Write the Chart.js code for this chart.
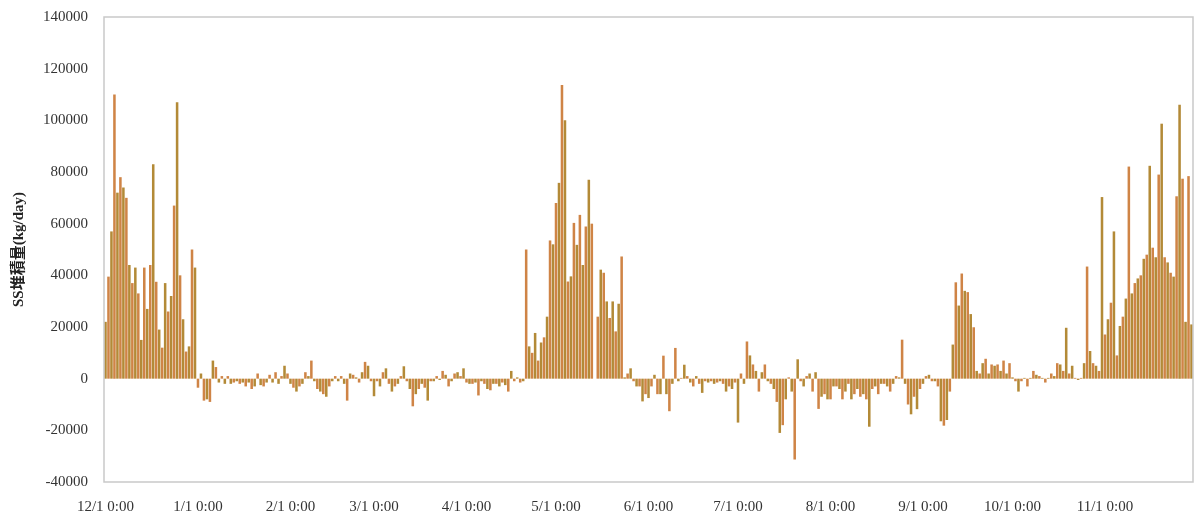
<!DOCTYPE html>
<html>
<head>
<meta charset="utf-8">
<script src="https://cdn.jsdelivr.net/npm/chart.js@4"></script>
<style>
  html, body { margin: 0; padding: 0; background: #fff; }
  #wrap { width: 1195px; height: 518px; }
</style>
</head>
<body>
<div id="wrap"><canvas id="ssChart" width="1195" height="518"></canvas></div>
<script>
// 日別 SS 堆積量 (kg/day)、12月～11月
const months = [12, 1, 2, 3, 4, 5, 6, 7, 8, 9, 10, 11];
const monthDays = [31, 31, 28, 31, 30, 31, 30, 31, 31, 30, 31, 30];

const dec = [22000, 39500, 57000, 110000, 72000, 78000, 74000, 70000, 44000, 37000, 43000, 33000, 15000, 43000, 27000, 44000,
  83000, 37500, 19000, 12000, 37000, 26000, 32000, 67000, 107000, 40000, 23000, 10500, 12500, 50000, 43000];
const jan = [-3500, 2000, -8500, -8000, -9000, 7000, 4500, -1500, 1000, -2000, 1000, -2000, -1500, -1000, -2000, -1500,
  -3000, -1500, -4000, -3000, 2000, -2500, -3000, -1500, 1500, -1500, 2500, -2000, 1000, 5000, 2000];
const feb = [-2000, -3500, -5000, -3000, -2000, 2500, 1000, 7000, -1000, -4000, -5000, -6000, -7000, -3000, -1000, 1000,
  -1000, 1000, -2000, -8500, 2000, 1500, 500, -1500, 2500, 6500, 5000, -1000];
const mar = [-6800, -1000, -3000, 2500, 4000, -2000, -5000, -3000, -2000, 1000, 4800, -1000, -4000, -10700, -6000, -4000,
  -2000, -3500, -8500, -1000, -1000, 1000, -500, 3000, 1500, -3000, -1000, 2000, 2500, 1000, 4000];
const apr = [-1500, -2000, -2000, -1500, -6500, -1000, -2000, -4000, -4500, -2000, -2000, -3000, -1500, -2500, -5000, 3000,
  -1000, 500, -1500, -1000, 50000, 12500, 10000, 17700, 7000, 14000, 16000, 24000, 53500, 52000];
const may = [68000, 75800, 113700, 100000, 37600, 39600, 60300, 51800, 63400, 44000, 58900, 77000, 60000, 0, 24000, 42200,
  41000, 29900, 23500, 29900, 18300, 29000, 47300, 500, 2000, 4000, -1000, -3000, -3000, -8800, -6000];
const jun = [-7500, -3000, 1500, -6000, -6000, 8900, -6000, -12600, -2000, 11900, -1000, 300, 5400, 1000, -1500, -3000,
  1000, -2000, -5500, -1000, -1500, -1000, -2000, -1500, -1000, -2000, -5000, -3000, -4000, -1500];
const jul = [-17000, 2000, -2000, 14400, 9000, 5500, 3000, -5000, 2500, 5500, -1000, -2000, -4000, -9000, -21000, -18000,
  -8000, 500, -5000, -31300, 7500, -1000, -3000, 1000, 2000, -5000, 2500, -11700, -7000, -6000, -8000];
const aug = [-8000, -3000, -3000, -4000, -8000, -5000, -2000, -8000, -6000, -4000, -7000, -6000, -8000, -18600, -4000, -3000,
  -6000, -2000, -2000, -3000, -5000, -2000, 1000, 500, 15100, -2000, -10000, -13800, -7000, -11800, -4000];
const sep = [-2000, 1000, 1500, -1000, -1000, -3000, -16500, -18200, -16000, -5000, 13200, 37300, 28300, 40700, 34000, 33500,
  25000, 19900, 3000, 2000, 6000, 7700, 2000, 5500, 5000, 5500, 3000, 7000, 2000, 6000];
const oct = [500, -1000, -5000, -1000, 300, -3000, 300, 3000, 1500, 1000, 300, -1500, 300, 2000, 1000, 6000,
  5500, 3000, 19700, 2000, 5000, 300, -500, 300, 6000, 43400, 10700, 6000, 5000, 3000, 70300];
const nov = [17100, 23000, 29400, 57000, 9000, 20400, 24000, 31000, 82100, 33000, 37000, 38800, 40000, 46400, 48000, 82400,
  50700, 47000, 79000, 98700, 47000, 45000, 41000, 39500, 70600, 106000, 77400, 22000, 78400, 21000];

const yTicks = [-40000, -20000, 0, 20000, 40000, 60000, 80000, 100000, 120000, 140000];

const ssLoad = [].concat(dec, jan, feb, mar, apr, may, jun, jul, aug, sep, oct, nov);

// 日付ラベル (m/d 0:00)
const labels = [];
months.forEach(function(m, k) {
  for (let d = 1; d <= monthDays[k]; d++) labels.push(m + '/' + d + ' 0:00');
});

// 棒の色を交互に
const barColors = ssLoad.map(function(v, i) { return i % 2 ? '#cf8446' : '#b38a37'; });

// プロット領域の枠線
const frame = {
  id: 'frame',
  afterDraw(chart) {
    const a = chart.chartArea, ctx = chart.ctx;
    ctx.save();
    ctx.strokeStyle = '#c9c9c9';
    ctx.lineWidth = 1.5;
    ctx.strokeRect(a.left, a.top, a.right - a.left, a.bottom - a.top);
    ctx.restore();
  }
};

const serif = '"Liberation Serif", "Times New Roman", "Noto Sans CJK JP", serif';

new Chart(document.getElementById('ssChart'), {
  type: 'bar',
  data: {
    labels: labels,
    datasets: [{
      label: 'SS堆積量',
      data: ssLoad,
      backgroundColor: barColors,
      borderWidth: 0,
      barPercentage: 1,
      categoryPercentage: 0.85
    }]
  },
  options: {
    responsive: false,
    animation: false,
    layout: { padding: { top: 3, right: 2, bottom: 0, left: 10 } },
    plugins: { legend: { display: false }, tooltip: { enabled: false } },
    scales: {
      x: {
        grid: { display: false },
        border: { display: false },
        ticks: {
          autoSkip: false,
          maxRotation: 0,
          color: '#333',
          font: { family: serif, size: 15 },
          padding: 8,
          callback: function(v, i) {
            return labels[i].indexOf('/1 0:00') > 0 ? labels[i] : null;
          }
        },
        afterFit: function(s) { s.height = 36; }
      },
      y: {
        min: -40000,
        max: 140000,
        grid: { display: false },
        border: { display: false },
        afterBuildTicks: function(s) { s.ticks = yTicks.map(function(v) { return { value: v }; }); },
        ticks: {
          color: '#333',
          font: { family: serif, size: 15 },
          padding: 8,
          callback: function(v) { return String(v); }
        },
        title: {
          display: true,
          text: 'SS堆積量(kg/day)',
          color: '#222',
          font: { family: serif, size: 15, weight: 'bold' },
          padding: { top: 0, bottom: 6 }
        },
        afterFit: function(s) { s.width = 94; }
      }
    }
  },
  plugins: [frame]
});
</script>
</body>
</html>
